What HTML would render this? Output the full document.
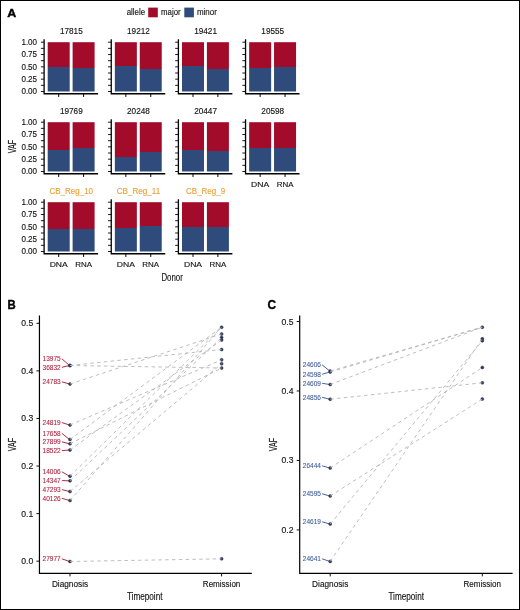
<!DOCTYPE html>
<html><head><meta charset="utf-8"><style>
html,body{margin:0;padding:0;background:#fff;}
svg{display:block;font-family:"Liberation Sans", sans-serif;will-change:transform;}
</style></head><body>
<svg width="520" height="610" viewBox="0 0 520 610">
<rect x="0.5" y="0.5" width="519" height="609" fill="#fff" stroke="#000" stroke-width="1"/>
<text x="7.30" y="16.95" font-size="11.7" text-anchor="start" fill="#000" stroke="#000" stroke-width="0.4" font-weight="bold" textLength="9.00" lengthAdjust="spacingAndGlyphs">A</text>
<text x="7.50" y="309.00" font-size="12.0" text-anchor="start" fill="#000" stroke="#000" stroke-width="0.35" font-weight="bold" textLength="8.20" lengthAdjust="spacingAndGlyphs">B</text>
<text x="267.60" y="309.20" font-size="12.0" text-anchor="start" fill="#000" stroke="#000" stroke-width="0.35" font-weight="bold" textLength="8.60" lengthAdjust="spacingAndGlyphs">C</text>
<text x="126.70" y="14.80" font-size="8.3" text-anchor="start" fill="#161616" stroke="#161616" stroke-width="0.15" textLength="18.40" lengthAdjust="spacingAndGlyphs">allele</text>
<rect x="148.20" y="7.60" width="9.60" height="9.70" fill="#A30B2B"/>
<text x="161.10" y="14.80" font-size="8.3" text-anchor="start" fill="#161616" stroke="#161616" stroke-width="0.15" textLength="19.50" lengthAdjust="spacingAndGlyphs">major</text>
<rect x="184.30" y="7.60" width="9.60" height="9.70" fill="#2E4B7B"/>
<text x="196.90" y="14.80" font-size="8.3" text-anchor="start" fill="#161616" stroke="#161616" stroke-width="0.15" textLength="20.00" lengthAdjust="spacingAndGlyphs">minor</text>
<linearGradient id="g000" x1="0" y1="42.20" x2="0" y2="91.50" gradientUnits="userSpaceOnUse"><stop offset="0.5112" stop-color="#A30B2B"/><stop offset="0.5112" stop-color="#2E4B7B"/></linearGradient>
<rect x="47.70" y="42.20" width="22.00" height="49.30" fill="url(#g000)"/>
<linearGradient id="g001" x1="0" y1="42.20" x2="0" y2="91.50" gradientUnits="userSpaceOnUse"><stop offset="0.5274" stop-color="#A30B2B"/><stop offset="0.5274" stop-color="#2E4B7B"/></linearGradient>
<rect x="72.60" y="42.20" width="22.00" height="49.30" fill="url(#g001)"/>
<path d="M44.10 39.20 V93.75 H98.10" fill="none" stroke="#000" stroke-width="1.3"/>
<line x1="40.90" y1="91.50" x2="44.10" y2="91.50" stroke="#000" stroke-width="0.9"/>
<line x1="40.90" y1="85.34" x2="44.10" y2="85.34" stroke="#000" stroke-width="0.9"/>
<line x1="40.90" y1="79.17" x2="44.10" y2="79.17" stroke="#000" stroke-width="0.9"/>
<line x1="40.90" y1="73.01" x2="44.10" y2="73.01" stroke="#000" stroke-width="0.9"/>
<line x1="40.90" y1="66.85" x2="44.10" y2="66.85" stroke="#000" stroke-width="0.9"/>
<line x1="40.90" y1="60.69" x2="44.10" y2="60.69" stroke="#000" stroke-width="0.9"/>
<line x1="40.90" y1="54.53" x2="44.10" y2="54.53" stroke="#000" stroke-width="0.9"/>
<line x1="40.90" y1="48.36" x2="44.10" y2="48.36" stroke="#000" stroke-width="0.9"/>
<line x1="40.90" y1="42.20" x2="44.10" y2="42.20" stroke="#000" stroke-width="0.9"/>
<line x1="58.70" y1="93.75" x2="58.70" y2="96.95" stroke="#000" stroke-width="1.0"/>
<line x1="83.60" y1="93.75" x2="83.60" y2="96.95" stroke="#000" stroke-width="1.0"/>
<text x="71.30" y="34.20" font-size="8.5" text-anchor="middle" fill="#161616" stroke="#161616" stroke-width="0.15" textLength="22.80" lengthAdjust="spacingAndGlyphs">17815</text>
<text x="37.10" y="94.20" font-size="8.6" text-anchor="end" fill="#161616" stroke="#161616" stroke-width="0.15" textLength="15.70" lengthAdjust="spacingAndGlyphs">0.00</text>
<text x="37.10" y="81.88" font-size="8.6" text-anchor="end" fill="#161616" stroke="#161616" stroke-width="0.15" textLength="15.70" lengthAdjust="spacingAndGlyphs">0.25</text>
<text x="37.10" y="69.55" font-size="8.6" text-anchor="end" fill="#161616" stroke="#161616" stroke-width="0.15" textLength="15.70" lengthAdjust="spacingAndGlyphs">0.50</text>
<text x="37.10" y="57.23" font-size="8.6" text-anchor="end" fill="#161616" stroke="#161616" stroke-width="0.15" textLength="15.70" lengthAdjust="spacingAndGlyphs">0.75</text>
<text x="37.10" y="44.90" font-size="8.6" text-anchor="end" fill="#161616" stroke="#161616" stroke-width="0.15" textLength="15.70" lengthAdjust="spacingAndGlyphs">1.00</text>
<linearGradient id="g010" x1="0" y1="42.20" x2="0" y2="91.50" gradientUnits="userSpaceOnUse"><stop offset="0.4888" stop-color="#A30B2B"/><stop offset="0.4888" stop-color="#2E4B7B"/></linearGradient>
<rect x="114.85" y="42.20" width="22.00" height="49.30" fill="url(#g010)"/>
<linearGradient id="g011" x1="0" y1="42.20" x2="0" y2="91.50" gradientUnits="userSpaceOnUse"><stop offset="0.5456" stop-color="#A30B2B"/><stop offset="0.5456" stop-color="#2E4B7B"/></linearGradient>
<rect x="139.75" y="42.20" width="22.00" height="49.30" fill="url(#g011)"/>
<path d="M111.25 39.20 V93.75 H165.25" fill="none" stroke="#000" stroke-width="1.3"/>
<line x1="108.05" y1="91.50" x2="111.25" y2="91.50" stroke="#000" stroke-width="0.9"/>
<line x1="108.05" y1="85.34" x2="111.25" y2="85.34" stroke="#000" stroke-width="0.9"/>
<line x1="108.05" y1="79.17" x2="111.25" y2="79.17" stroke="#000" stroke-width="0.9"/>
<line x1="108.05" y1="73.01" x2="111.25" y2="73.01" stroke="#000" stroke-width="0.9"/>
<line x1="108.05" y1="66.85" x2="111.25" y2="66.85" stroke="#000" stroke-width="0.9"/>
<line x1="108.05" y1="60.69" x2="111.25" y2="60.69" stroke="#000" stroke-width="0.9"/>
<line x1="108.05" y1="54.53" x2="111.25" y2="54.53" stroke="#000" stroke-width="0.9"/>
<line x1="108.05" y1="48.36" x2="111.25" y2="48.36" stroke="#000" stroke-width="0.9"/>
<line x1="108.05" y1="42.20" x2="111.25" y2="42.20" stroke="#000" stroke-width="0.9"/>
<line x1="125.85" y1="93.75" x2="125.85" y2="96.95" stroke="#000" stroke-width="1.0"/>
<line x1="150.75" y1="93.75" x2="150.75" y2="96.95" stroke="#000" stroke-width="1.0"/>
<text x="138.45" y="34.20" font-size="8.5" text-anchor="middle" fill="#161616" stroke="#161616" stroke-width="0.15" textLength="22.80" lengthAdjust="spacingAndGlyphs">19212</text>
<linearGradient id="g020" x1="0" y1="42.20" x2="0" y2="91.50" gradientUnits="userSpaceOnUse"><stop offset="0.4767" stop-color="#A30B2B"/><stop offset="0.4767" stop-color="#2E4B7B"/></linearGradient>
<rect x="182.00" y="42.20" width="22.00" height="49.30" fill="url(#g020)"/>
<linearGradient id="g021" x1="0" y1="42.20" x2="0" y2="91.50" gradientUnits="userSpaceOnUse"><stop offset="0.5355" stop-color="#A30B2B"/><stop offset="0.5355" stop-color="#2E4B7B"/></linearGradient>
<rect x="206.90" y="42.20" width="22.00" height="49.30" fill="url(#g021)"/>
<path d="M178.40 39.20 V93.75 H232.40" fill="none" stroke="#000" stroke-width="1.3"/>
<line x1="175.20" y1="91.50" x2="178.40" y2="91.50" stroke="#000" stroke-width="0.9"/>
<line x1="175.20" y1="85.34" x2="178.40" y2="85.34" stroke="#000" stroke-width="0.9"/>
<line x1="175.20" y1="79.17" x2="178.40" y2="79.17" stroke="#000" stroke-width="0.9"/>
<line x1="175.20" y1="73.01" x2="178.40" y2="73.01" stroke="#000" stroke-width="0.9"/>
<line x1="175.20" y1="66.85" x2="178.40" y2="66.85" stroke="#000" stroke-width="0.9"/>
<line x1="175.20" y1="60.69" x2="178.40" y2="60.69" stroke="#000" stroke-width="0.9"/>
<line x1="175.20" y1="54.53" x2="178.40" y2="54.53" stroke="#000" stroke-width="0.9"/>
<line x1="175.20" y1="48.36" x2="178.40" y2="48.36" stroke="#000" stroke-width="0.9"/>
<line x1="175.20" y1="42.20" x2="178.40" y2="42.20" stroke="#000" stroke-width="0.9"/>
<line x1="193.00" y1="93.75" x2="193.00" y2="96.95" stroke="#000" stroke-width="1.0"/>
<line x1="217.90" y1="93.75" x2="217.90" y2="96.95" stroke="#000" stroke-width="1.0"/>
<text x="205.60" y="34.20" font-size="8.5" text-anchor="middle" fill="#161616" stroke="#161616" stroke-width="0.15" textLength="22.80" lengthAdjust="spacingAndGlyphs">19421</text>
<linearGradient id="g030" x1="0" y1="42.20" x2="0" y2="91.50" gradientUnits="userSpaceOnUse"><stop offset="0.5193" stop-color="#A30B2B"/><stop offset="0.5193" stop-color="#2E4B7B"/></linearGradient>
<rect x="249.15" y="42.20" width="22.00" height="49.30" fill="url(#g030)"/>
<linearGradient id="g031" x1="0" y1="42.20" x2="0" y2="91.50" gradientUnits="userSpaceOnUse"><stop offset="0.4990" stop-color="#A30B2B"/><stop offset="0.4990" stop-color="#2E4B7B"/></linearGradient>
<rect x="274.05" y="42.20" width="22.00" height="49.30" fill="url(#g031)"/>
<path d="M245.55 39.20 V93.75 H299.55" fill="none" stroke="#000" stroke-width="1.3"/>
<line x1="242.35" y1="91.50" x2="245.55" y2="91.50" stroke="#000" stroke-width="0.9"/>
<line x1="242.35" y1="85.34" x2="245.55" y2="85.34" stroke="#000" stroke-width="0.9"/>
<line x1="242.35" y1="79.17" x2="245.55" y2="79.17" stroke="#000" stroke-width="0.9"/>
<line x1="242.35" y1="73.01" x2="245.55" y2="73.01" stroke="#000" stroke-width="0.9"/>
<line x1="242.35" y1="66.85" x2="245.55" y2="66.85" stroke="#000" stroke-width="0.9"/>
<line x1="242.35" y1="60.69" x2="245.55" y2="60.69" stroke="#000" stroke-width="0.9"/>
<line x1="242.35" y1="54.53" x2="245.55" y2="54.53" stroke="#000" stroke-width="0.9"/>
<line x1="242.35" y1="48.36" x2="245.55" y2="48.36" stroke="#000" stroke-width="0.9"/>
<line x1="242.35" y1="42.20" x2="245.55" y2="42.20" stroke="#000" stroke-width="0.9"/>
<line x1="260.15" y1="93.75" x2="260.15" y2="96.95" stroke="#000" stroke-width="1.0"/>
<line x1="285.05" y1="93.75" x2="285.05" y2="96.95" stroke="#000" stroke-width="1.0"/>
<text x="272.75" y="34.20" font-size="8.5" text-anchor="middle" fill="#161616" stroke="#161616" stroke-width="0.15" textLength="22.80" lengthAdjust="spacingAndGlyphs">19555</text>
<linearGradient id="g100" x1="0" y1="122.20" x2="0" y2="171.50" gradientUnits="userSpaceOnUse"><stop offset="0.5700" stop-color="#A30B2B"/><stop offset="0.5700" stop-color="#2E4B7B"/></linearGradient>
<rect x="47.70" y="122.20" width="22.00" height="49.30" fill="url(#g100)"/>
<linearGradient id="g101" x1="0" y1="122.20" x2="0" y2="171.50" gradientUnits="userSpaceOnUse"><stop offset="0.5233" stop-color="#A30B2B"/><stop offset="0.5233" stop-color="#2E4B7B"/></linearGradient>
<rect x="72.60" y="122.20" width="22.00" height="49.30" fill="url(#g101)"/>
<path d="M44.10 119.20 V173.75 H98.10" fill="none" stroke="#000" stroke-width="1.3"/>
<line x1="40.90" y1="171.50" x2="44.10" y2="171.50" stroke="#000" stroke-width="0.9"/>
<line x1="40.90" y1="165.34" x2="44.10" y2="165.34" stroke="#000" stroke-width="0.9"/>
<line x1="40.90" y1="159.18" x2="44.10" y2="159.18" stroke="#000" stroke-width="0.9"/>
<line x1="40.90" y1="153.01" x2="44.10" y2="153.01" stroke="#000" stroke-width="0.9"/>
<line x1="40.90" y1="146.85" x2="44.10" y2="146.85" stroke="#000" stroke-width="0.9"/>
<line x1="40.90" y1="140.69" x2="44.10" y2="140.69" stroke="#000" stroke-width="0.9"/>
<line x1="40.90" y1="134.53" x2="44.10" y2="134.53" stroke="#000" stroke-width="0.9"/>
<line x1="40.90" y1="128.36" x2="44.10" y2="128.36" stroke="#000" stroke-width="0.9"/>
<line x1="40.90" y1="122.20" x2="44.10" y2="122.20" stroke="#000" stroke-width="0.9"/>
<line x1="58.70" y1="173.75" x2="58.70" y2="176.95" stroke="#000" stroke-width="1.0"/>
<line x1="83.60" y1="173.75" x2="83.60" y2="176.95" stroke="#000" stroke-width="1.0"/>
<text x="71.30" y="114.20" font-size="8.5" text-anchor="middle" fill="#161616" stroke="#161616" stroke-width="0.15" textLength="22.80" lengthAdjust="spacingAndGlyphs">19769</text>
<text x="37.10" y="174.20" font-size="8.6" text-anchor="end" fill="#161616" stroke="#161616" stroke-width="0.15" textLength="15.70" lengthAdjust="spacingAndGlyphs">0.00</text>
<text x="37.10" y="161.88" font-size="8.6" text-anchor="end" fill="#161616" stroke="#161616" stroke-width="0.15" textLength="15.70" lengthAdjust="spacingAndGlyphs">0.25</text>
<text x="37.10" y="149.55" font-size="8.6" text-anchor="end" fill="#161616" stroke="#161616" stroke-width="0.15" textLength="15.70" lengthAdjust="spacingAndGlyphs">0.50</text>
<text x="37.10" y="137.22" font-size="8.6" text-anchor="end" fill="#161616" stroke="#161616" stroke-width="0.15" textLength="15.70" lengthAdjust="spacingAndGlyphs">0.75</text>
<text x="37.10" y="124.90" font-size="8.6" text-anchor="end" fill="#161616" stroke="#161616" stroke-width="0.15" textLength="15.70" lengthAdjust="spacingAndGlyphs">1.00</text>
<linearGradient id="g110" x1="0" y1="122.20" x2="0" y2="171.50" gradientUnits="userSpaceOnUse"><stop offset="0.6978" stop-color="#A30B2B"/><stop offset="0.6978" stop-color="#2E4B7B"/></linearGradient>
<rect x="114.85" y="122.20" width="22.00" height="49.30" fill="url(#g110)"/>
<linearGradient id="g111" x1="0" y1="122.20" x2="0" y2="171.50" gradientUnits="userSpaceOnUse"><stop offset="0.5984" stop-color="#A30B2B"/><stop offset="0.5984" stop-color="#2E4B7B"/></linearGradient>
<rect x="139.75" y="122.20" width="22.00" height="49.30" fill="url(#g111)"/>
<path d="M111.25 119.20 V173.75 H165.25" fill="none" stroke="#000" stroke-width="1.3"/>
<line x1="108.05" y1="171.50" x2="111.25" y2="171.50" stroke="#000" stroke-width="0.9"/>
<line x1="108.05" y1="165.34" x2="111.25" y2="165.34" stroke="#000" stroke-width="0.9"/>
<line x1="108.05" y1="159.18" x2="111.25" y2="159.18" stroke="#000" stroke-width="0.9"/>
<line x1="108.05" y1="153.01" x2="111.25" y2="153.01" stroke="#000" stroke-width="0.9"/>
<line x1="108.05" y1="146.85" x2="111.25" y2="146.85" stroke="#000" stroke-width="0.9"/>
<line x1="108.05" y1="140.69" x2="111.25" y2="140.69" stroke="#000" stroke-width="0.9"/>
<line x1="108.05" y1="134.53" x2="111.25" y2="134.53" stroke="#000" stroke-width="0.9"/>
<line x1="108.05" y1="128.36" x2="111.25" y2="128.36" stroke="#000" stroke-width="0.9"/>
<line x1="108.05" y1="122.20" x2="111.25" y2="122.20" stroke="#000" stroke-width="0.9"/>
<line x1="125.85" y1="173.75" x2="125.85" y2="176.95" stroke="#000" stroke-width="1.0"/>
<line x1="150.75" y1="173.75" x2="150.75" y2="176.95" stroke="#000" stroke-width="1.0"/>
<text x="138.45" y="114.20" font-size="8.5" text-anchor="middle" fill="#161616" stroke="#161616" stroke-width="0.15" textLength="22.80" lengthAdjust="spacingAndGlyphs">20248</text>
<linearGradient id="g120" x1="0" y1="122.20" x2="0" y2="171.50" gradientUnits="userSpaceOnUse"><stop offset="0.5538" stop-color="#A30B2B"/><stop offset="0.5538" stop-color="#2E4B7B"/></linearGradient>
<rect x="182.00" y="122.20" width="22.00" height="49.30" fill="url(#g120)"/>
<linearGradient id="g121" x1="0" y1="122.20" x2="0" y2="171.50" gradientUnits="userSpaceOnUse"><stop offset="0.5822" stop-color="#A30B2B"/><stop offset="0.5822" stop-color="#2E4B7B"/></linearGradient>
<rect x="206.90" y="122.20" width="22.00" height="49.30" fill="url(#g121)"/>
<path d="M178.40 119.20 V173.75 H232.40" fill="none" stroke="#000" stroke-width="1.3"/>
<line x1="175.20" y1="171.50" x2="178.40" y2="171.50" stroke="#000" stroke-width="0.9"/>
<line x1="175.20" y1="165.34" x2="178.40" y2="165.34" stroke="#000" stroke-width="0.9"/>
<line x1="175.20" y1="159.18" x2="178.40" y2="159.18" stroke="#000" stroke-width="0.9"/>
<line x1="175.20" y1="153.01" x2="178.40" y2="153.01" stroke="#000" stroke-width="0.9"/>
<line x1="175.20" y1="146.85" x2="178.40" y2="146.85" stroke="#000" stroke-width="0.9"/>
<line x1="175.20" y1="140.69" x2="178.40" y2="140.69" stroke="#000" stroke-width="0.9"/>
<line x1="175.20" y1="134.53" x2="178.40" y2="134.53" stroke="#000" stroke-width="0.9"/>
<line x1="175.20" y1="128.36" x2="178.40" y2="128.36" stroke="#000" stroke-width="0.9"/>
<line x1="175.20" y1="122.20" x2="178.40" y2="122.20" stroke="#000" stroke-width="0.9"/>
<line x1="193.00" y1="173.75" x2="193.00" y2="176.95" stroke="#000" stroke-width="1.0"/>
<line x1="217.90" y1="173.75" x2="217.90" y2="176.95" stroke="#000" stroke-width="1.0"/>
<text x="205.60" y="114.20" font-size="8.5" text-anchor="middle" fill="#161616" stroke="#161616" stroke-width="0.15" textLength="22.80" lengthAdjust="spacingAndGlyphs">20447</text>
<linearGradient id="g130" x1="0" y1="122.20" x2="0" y2="171.50" gradientUnits="userSpaceOnUse"><stop offset="0.5193" stop-color="#A30B2B"/><stop offset="0.5193" stop-color="#2E4B7B"/></linearGradient>
<rect x="249.15" y="122.20" width="22.00" height="49.30" fill="url(#g130)"/>
<linearGradient id="g131" x1="0" y1="122.20" x2="0" y2="171.50" gradientUnits="userSpaceOnUse"><stop offset="0.5233" stop-color="#A30B2B"/><stop offset="0.5233" stop-color="#2E4B7B"/></linearGradient>
<rect x="274.05" y="122.20" width="22.00" height="49.30" fill="url(#g131)"/>
<path d="M245.55 119.20 V173.75 H299.55" fill="none" stroke="#000" stroke-width="1.3"/>
<line x1="242.35" y1="171.50" x2="245.55" y2="171.50" stroke="#000" stroke-width="0.9"/>
<line x1="242.35" y1="165.34" x2="245.55" y2="165.34" stroke="#000" stroke-width="0.9"/>
<line x1="242.35" y1="159.18" x2="245.55" y2="159.18" stroke="#000" stroke-width="0.9"/>
<line x1="242.35" y1="153.01" x2="245.55" y2="153.01" stroke="#000" stroke-width="0.9"/>
<line x1="242.35" y1="146.85" x2="245.55" y2="146.85" stroke="#000" stroke-width="0.9"/>
<line x1="242.35" y1="140.69" x2="245.55" y2="140.69" stroke="#000" stroke-width="0.9"/>
<line x1="242.35" y1="134.53" x2="245.55" y2="134.53" stroke="#000" stroke-width="0.9"/>
<line x1="242.35" y1="128.36" x2="245.55" y2="128.36" stroke="#000" stroke-width="0.9"/>
<line x1="242.35" y1="122.20" x2="245.55" y2="122.20" stroke="#000" stroke-width="0.9"/>
<line x1="260.15" y1="173.75" x2="260.15" y2="176.95" stroke="#000" stroke-width="1.0"/>
<line x1="285.05" y1="173.75" x2="285.05" y2="176.95" stroke="#000" stroke-width="1.0"/>
<text x="272.75" y="114.20" font-size="8.5" text-anchor="middle" fill="#161616" stroke="#161616" stroke-width="0.15" textLength="22.80" lengthAdjust="spacingAndGlyphs">20598</text>
<text x="260.15" y="186.75" font-size="8.1" text-anchor="middle" fill="#161616" stroke="#161616" stroke-width="0.15" textLength="18.10" lengthAdjust="spacingAndGlyphs">DNA</text>
<text x="285.05" y="186.75" font-size="8.1" text-anchor="middle" fill="#161616" stroke="#161616" stroke-width="0.15" textLength="16.80" lengthAdjust="spacingAndGlyphs">RNA</text>
<linearGradient id="g200" x1="0" y1="202.20" x2="0" y2="251.50" gradientUnits="userSpaceOnUse"><stop offset="0.5355" stop-color="#A30B2B"/><stop offset="0.5355" stop-color="#2E4B7B"/></linearGradient>
<rect x="47.70" y="202.20" width="22.00" height="49.30" fill="url(#g200)"/>
<linearGradient id="g201" x1="0" y1="202.20" x2="0" y2="251.50" gradientUnits="userSpaceOnUse"><stop offset="0.5416" stop-color="#A30B2B"/><stop offset="0.5416" stop-color="#2E4B7B"/></linearGradient>
<rect x="72.60" y="202.20" width="22.00" height="49.30" fill="url(#g201)"/>
<path d="M44.10 199.20 V253.75 H98.10" fill="none" stroke="#000" stroke-width="1.3"/>
<line x1="40.90" y1="251.50" x2="44.10" y2="251.50" stroke="#000" stroke-width="0.9"/>
<line x1="40.90" y1="245.34" x2="44.10" y2="245.34" stroke="#000" stroke-width="0.9"/>
<line x1="40.90" y1="239.18" x2="44.10" y2="239.18" stroke="#000" stroke-width="0.9"/>
<line x1="40.90" y1="233.01" x2="44.10" y2="233.01" stroke="#000" stroke-width="0.9"/>
<line x1="40.90" y1="226.85" x2="44.10" y2="226.85" stroke="#000" stroke-width="0.9"/>
<line x1="40.90" y1="220.69" x2="44.10" y2="220.69" stroke="#000" stroke-width="0.9"/>
<line x1="40.90" y1="214.52" x2="44.10" y2="214.52" stroke="#000" stroke-width="0.9"/>
<line x1="40.90" y1="208.36" x2="44.10" y2="208.36" stroke="#000" stroke-width="0.9"/>
<line x1="40.90" y1="202.20" x2="44.10" y2="202.20" stroke="#000" stroke-width="0.9"/>
<line x1="58.70" y1="253.75" x2="58.70" y2="256.95" stroke="#000" stroke-width="1.0"/>
<line x1="83.60" y1="253.75" x2="83.60" y2="256.95" stroke="#000" stroke-width="1.0"/>
<text x="71.30" y="194.20" font-size="9.0" text-anchor="middle" fill="#E8A33C" stroke="#E8A33C" stroke-width="0.15" textLength="43.50" lengthAdjust="spacingAndGlyphs">CB_Reg_10</text>
<text x="37.10" y="254.20" font-size="8.6" text-anchor="end" fill="#161616" stroke="#161616" stroke-width="0.15" textLength="15.70" lengthAdjust="spacingAndGlyphs">0.00</text>
<text x="37.10" y="241.88" font-size="8.6" text-anchor="end" fill="#161616" stroke="#161616" stroke-width="0.15" textLength="15.70" lengthAdjust="spacingAndGlyphs">0.25</text>
<text x="37.10" y="229.55" font-size="8.6" text-anchor="end" fill="#161616" stroke="#161616" stroke-width="0.15" textLength="15.70" lengthAdjust="spacingAndGlyphs">0.50</text>
<text x="37.10" y="217.22" font-size="8.6" text-anchor="end" fill="#161616" stroke="#161616" stroke-width="0.15" textLength="15.70" lengthAdjust="spacingAndGlyphs">0.75</text>
<text x="37.10" y="204.90" font-size="8.6" text-anchor="end" fill="#161616" stroke="#161616" stroke-width="0.15" textLength="15.70" lengthAdjust="spacingAndGlyphs">1.00</text>
<text x="58.70" y="266.75" font-size="8.1" text-anchor="middle" fill="#161616" stroke="#161616" stroke-width="0.15" textLength="18.10" lengthAdjust="spacingAndGlyphs">DNA</text>
<text x="83.60" y="266.75" font-size="8.1" text-anchor="middle" fill="#161616" stroke="#161616" stroke-width="0.15" textLength="16.80" lengthAdjust="spacingAndGlyphs">RNA</text>
<linearGradient id="g210" x1="0" y1="202.20" x2="0" y2="251.50" gradientUnits="userSpaceOnUse"><stop offset="0.5274" stop-color="#A30B2B"/><stop offset="0.5274" stop-color="#2E4B7B"/></linearGradient>
<rect x="114.85" y="202.20" width="22.00" height="49.30" fill="url(#g210)"/>
<linearGradient id="g211" x1="0" y1="202.20" x2="0" y2="251.50" gradientUnits="userSpaceOnUse"><stop offset="0.4888" stop-color="#A30B2B"/><stop offset="0.4888" stop-color="#2E4B7B"/></linearGradient>
<rect x="139.75" y="202.20" width="22.00" height="49.30" fill="url(#g211)"/>
<path d="M111.25 199.20 V253.75 H165.25" fill="none" stroke="#000" stroke-width="1.3"/>
<line x1="108.05" y1="251.50" x2="111.25" y2="251.50" stroke="#000" stroke-width="0.9"/>
<line x1="108.05" y1="245.34" x2="111.25" y2="245.34" stroke="#000" stroke-width="0.9"/>
<line x1="108.05" y1="239.18" x2="111.25" y2="239.18" stroke="#000" stroke-width="0.9"/>
<line x1="108.05" y1="233.01" x2="111.25" y2="233.01" stroke="#000" stroke-width="0.9"/>
<line x1="108.05" y1="226.85" x2="111.25" y2="226.85" stroke="#000" stroke-width="0.9"/>
<line x1="108.05" y1="220.69" x2="111.25" y2="220.69" stroke="#000" stroke-width="0.9"/>
<line x1="108.05" y1="214.52" x2="111.25" y2="214.52" stroke="#000" stroke-width="0.9"/>
<line x1="108.05" y1="208.36" x2="111.25" y2="208.36" stroke="#000" stroke-width="0.9"/>
<line x1="108.05" y1="202.20" x2="111.25" y2="202.20" stroke="#000" stroke-width="0.9"/>
<line x1="125.85" y1="253.75" x2="125.85" y2="256.95" stroke="#000" stroke-width="1.0"/>
<line x1="150.75" y1="253.75" x2="150.75" y2="256.95" stroke="#000" stroke-width="1.0"/>
<text x="138.45" y="194.20" font-size="9.0" text-anchor="middle" fill="#E8A33C" stroke="#E8A33C" stroke-width="0.15" textLength="43.50" lengthAdjust="spacingAndGlyphs">CB_Reg_11</text>
<text x="125.85" y="266.75" font-size="8.1" text-anchor="middle" fill="#161616" stroke="#161616" stroke-width="0.15" textLength="18.10" lengthAdjust="spacingAndGlyphs">DNA</text>
<text x="150.75" y="266.75" font-size="8.1" text-anchor="middle" fill="#161616" stroke="#161616" stroke-width="0.15" textLength="16.80" lengthAdjust="spacingAndGlyphs">RNA</text>
<linearGradient id="g220" x1="0" y1="202.20" x2="0" y2="251.50" gradientUnits="userSpaceOnUse"><stop offset="0.5051" stop-color="#A30B2B"/><stop offset="0.5051" stop-color="#2E4B7B"/></linearGradient>
<rect x="182.00" y="202.20" width="22.00" height="49.30" fill="url(#g220)"/>
<linearGradient id="g221" x1="0" y1="202.20" x2="0" y2="251.50" gradientUnits="userSpaceOnUse"><stop offset="0.4990" stop-color="#A30B2B"/><stop offset="0.4990" stop-color="#2E4B7B"/></linearGradient>
<rect x="206.90" y="202.20" width="22.00" height="49.30" fill="url(#g221)"/>
<path d="M178.40 199.20 V253.75 H232.40" fill="none" stroke="#000" stroke-width="1.3"/>
<line x1="175.20" y1="251.50" x2="178.40" y2="251.50" stroke="#000" stroke-width="0.9"/>
<line x1="175.20" y1="245.34" x2="178.40" y2="245.34" stroke="#000" stroke-width="0.9"/>
<line x1="175.20" y1="239.18" x2="178.40" y2="239.18" stroke="#000" stroke-width="0.9"/>
<line x1="175.20" y1="233.01" x2="178.40" y2="233.01" stroke="#000" stroke-width="0.9"/>
<line x1="175.20" y1="226.85" x2="178.40" y2="226.85" stroke="#000" stroke-width="0.9"/>
<line x1="175.20" y1="220.69" x2="178.40" y2="220.69" stroke="#000" stroke-width="0.9"/>
<line x1="175.20" y1="214.52" x2="178.40" y2="214.52" stroke="#000" stroke-width="0.9"/>
<line x1="175.20" y1="208.36" x2="178.40" y2="208.36" stroke="#000" stroke-width="0.9"/>
<line x1="175.20" y1="202.20" x2="178.40" y2="202.20" stroke="#000" stroke-width="0.9"/>
<line x1="193.00" y1="253.75" x2="193.00" y2="256.95" stroke="#000" stroke-width="1.0"/>
<line x1="217.90" y1="253.75" x2="217.90" y2="256.95" stroke="#000" stroke-width="1.0"/>
<text x="205.60" y="194.20" font-size="9.0" text-anchor="middle" fill="#E8A33C" stroke="#E8A33C" stroke-width="0.15" textLength="39.00" lengthAdjust="spacingAndGlyphs">CB_Reg_9</text>
<text x="193.00" y="266.75" font-size="8.1" text-anchor="middle" fill="#161616" stroke="#161616" stroke-width="0.15" textLength="18.10" lengthAdjust="spacingAndGlyphs">DNA</text>
<text x="217.90" y="266.75" font-size="8.1" text-anchor="middle" fill="#161616" stroke="#161616" stroke-width="0.15" textLength="16.80" lengthAdjust="spacingAndGlyphs">RNA</text>
<text x="0" y="0" font-size="10" text-anchor="middle" fill="#161616" stroke="#161616" stroke-width="0.2" textLength="13.5" lengthAdjust="spacingAndGlyphs" transform="translate(16.0 146.6) rotate(-90)">VAF</text>
<text x="172.10" y="280.80" font-size="10" text-anchor="middle" fill="#161616" stroke="#161616" stroke-width="0.15" textLength="21.40" lengthAdjust="spacingAndGlyphs">Donor</text>
<path d="M39.45 315.6 V573.4 H251.80" fill="none" stroke="#000" stroke-width="1.2"/>
<line x1="36.45" y1="561.20" x2="39.45" y2="561.20" stroke="#111" stroke-width="1"/>
<text x="33.25" y="564.20" font-size="8.8" text-anchor="end" fill="#161616" stroke="#161616" stroke-width="0.15" textLength="12.00" lengthAdjust="spacingAndGlyphs">0.0</text>
<line x1="36.45" y1="513.62" x2="39.45" y2="513.62" stroke="#111" stroke-width="1"/>
<text x="33.25" y="516.62" font-size="8.8" text-anchor="end" fill="#161616" stroke="#161616" stroke-width="0.15" textLength="12.00" lengthAdjust="spacingAndGlyphs">0.1</text>
<line x1="36.45" y1="466.04" x2="39.45" y2="466.04" stroke="#111" stroke-width="1"/>
<text x="33.25" y="469.04" font-size="8.8" text-anchor="end" fill="#161616" stroke="#161616" stroke-width="0.15" textLength="12.00" lengthAdjust="spacingAndGlyphs">0.2</text>
<line x1="36.45" y1="418.46" x2="39.45" y2="418.46" stroke="#111" stroke-width="1"/>
<text x="33.25" y="421.46" font-size="8.8" text-anchor="end" fill="#161616" stroke="#161616" stroke-width="0.15" textLength="12.00" lengthAdjust="spacingAndGlyphs">0.3</text>
<line x1="36.45" y1="370.88" x2="39.45" y2="370.88" stroke="#111" stroke-width="1"/>
<text x="33.25" y="373.88" font-size="8.8" text-anchor="end" fill="#161616" stroke="#161616" stroke-width="0.15" textLength="12.00" lengthAdjust="spacingAndGlyphs">0.4</text>
<line x1="36.45" y1="323.30" x2="39.45" y2="323.30" stroke="#111" stroke-width="1"/>
<text x="33.25" y="326.30" font-size="8.8" text-anchor="end" fill="#161616" stroke="#161616" stroke-width="0.15" textLength="12.00" lengthAdjust="spacingAndGlyphs">0.5</text>
<line x1="70.00" y1="573.40" x2="70.00" y2="576.40" stroke="#111" stroke-width="1"/>
<line x1="221.60" y1="573.40" x2="221.60" y2="576.40" stroke="#111" stroke-width="1"/>
<text x="70.00" y="587.00" font-size="8.8" text-anchor="middle" fill="#161616" stroke="#161616" stroke-width="0.15" textLength="36.20" lengthAdjust="spacingAndGlyphs">Diagnosis</text>
<text x="221.60" y="587.00" font-size="8.8" text-anchor="middle" fill="#161616" stroke="#161616" stroke-width="0.15" textLength="37.50" lengthAdjust="spacingAndGlyphs">Remission</text>
<text x="144.70" y="600.00" font-size="10.0" text-anchor="middle" fill="#161616" stroke="#161616" stroke-width="0.15" textLength="35.60" lengthAdjust="spacingAndGlyphs">Timepoint</text>
<text x="60.75" y="361.00" font-size="7.2" text-anchor="end" fill="#B0203F" stroke="#B0203F" stroke-width="0.08" textLength="18.20" lengthAdjust="spacingAndGlyphs">13975</text>
<line x1="61.85" y1="358.80" x2="69.50" y2="365.50" stroke="#B0203F" stroke-width="0.95"/>
<text x="60.75" y="369.50" font-size="7.2" text-anchor="end" fill="#B0203F" stroke="#B0203F" stroke-width="0.08" textLength="18.20" lengthAdjust="spacingAndGlyphs">36832</text>
<line x1="61.85" y1="367.30" x2="69.50" y2="365.50" stroke="#B0203F" stroke-width="0.95"/>
<text x="60.75" y="384.00" font-size="7.2" text-anchor="end" fill="#B0203F" stroke="#B0203F" stroke-width="0.08" textLength="18.20" lengthAdjust="spacingAndGlyphs">24783</text>
<line x1="61.85" y1="381.80" x2="69.50" y2="384.00" stroke="#B0203F" stroke-width="0.95"/>
<text x="60.75" y="424.80" font-size="7.2" text-anchor="end" fill="#B0203F" stroke="#B0203F" stroke-width="0.08" textLength="18.20" lengthAdjust="spacingAndGlyphs">24819</text>
<line x1="61.85" y1="422.60" x2="69.50" y2="425.00" stroke="#B0203F" stroke-width="0.95"/>
<text x="60.75" y="435.50" font-size="7.2" text-anchor="end" fill="#B0203F" stroke="#B0203F" stroke-width="0.08" textLength="18.20" lengthAdjust="spacingAndGlyphs">17658</text>
<line x1="61.85" y1="433.30" x2="69.50" y2="439.50" stroke="#B0203F" stroke-width="0.95"/>
<text x="60.75" y="444.00" font-size="7.2" text-anchor="end" fill="#B0203F" stroke="#B0203F" stroke-width="0.08" textLength="18.20" lengthAdjust="spacingAndGlyphs">27899</text>
<line x1="61.85" y1="441.80" x2="69.50" y2="443.80" stroke="#B0203F" stroke-width="0.95"/>
<text x="60.75" y="452.80" font-size="7.2" text-anchor="end" fill="#B0203F" stroke="#B0203F" stroke-width="0.08" textLength="18.20" lengthAdjust="spacingAndGlyphs">18522</text>
<line x1="61.85" y1="450.60" x2="69.50" y2="450.00" stroke="#B0203F" stroke-width="0.95"/>
<text x="60.75" y="474.00" font-size="7.2" text-anchor="end" fill="#B0203F" stroke="#B0203F" stroke-width="0.08" textLength="18.20" lengthAdjust="spacingAndGlyphs">14006</text>
<line x1="61.85" y1="471.80" x2="69.50" y2="476.20" stroke="#B0203F" stroke-width="0.95"/>
<text x="60.75" y="482.80" font-size="7.2" text-anchor="end" fill="#B0203F" stroke="#B0203F" stroke-width="0.08" textLength="18.20" lengthAdjust="spacingAndGlyphs">14347</text>
<line x1="61.85" y1="480.60" x2="69.50" y2="480.80" stroke="#B0203F" stroke-width="0.95"/>
<text x="60.75" y="491.80" font-size="7.2" text-anchor="end" fill="#B0203F" stroke="#B0203F" stroke-width="0.08" textLength="18.20" lengthAdjust="spacingAndGlyphs">47293</text>
<line x1="61.85" y1="489.60" x2="69.50" y2="491.50" stroke="#B0203F" stroke-width="0.95"/>
<text x="60.75" y="500.50" font-size="7.2" text-anchor="end" fill="#B0203F" stroke="#B0203F" stroke-width="0.08" textLength="18.20" lengthAdjust="spacingAndGlyphs">40126</text>
<line x1="61.85" y1="498.30" x2="69.50" y2="500.50" stroke="#B0203F" stroke-width="0.95"/>
<text x="60.75" y="561.00" font-size="7.2" text-anchor="end" fill="#B0203F" stroke="#B0203F" stroke-width="0.08" textLength="18.20" lengthAdjust="spacingAndGlyphs">27977</text>
<line x1="61.85" y1="558.80" x2="69.50" y2="561.50" stroke="#B0203F" stroke-width="0.95"/>
<circle cx="70.00" cy="365.50" r="1.5" fill="#2C3653" stroke="#2C3653" stroke-width="0.5"/>
<circle cx="70.00" cy="365.50" r="1.5" fill="#2C3653" stroke="#2C3653" stroke-width="0.5"/>
<circle cx="70.00" cy="384.00" r="1.5" fill="#2C3653" stroke="#2C3653" stroke-width="0.5"/>
<circle cx="70.00" cy="425.00" r="1.5" fill="#2C3653" stroke="#2C3653" stroke-width="0.5"/>
<circle cx="70.00" cy="439.50" r="1.5" fill="#2C3653" stroke="#2C3653" stroke-width="0.5"/>
<circle cx="70.00" cy="443.80" r="1.5" fill="#2C3653" stroke="#2C3653" stroke-width="0.5"/>
<circle cx="70.00" cy="450.00" r="1.5" fill="#2C3653" stroke="#2C3653" stroke-width="0.5"/>
<circle cx="70.00" cy="476.20" r="1.5" fill="#2C3653" stroke="#2C3653" stroke-width="0.5"/>
<circle cx="70.00" cy="480.80" r="1.5" fill="#2C3653" stroke="#2C3653" stroke-width="0.5"/>
<circle cx="70.00" cy="491.50" r="1.5" fill="#2C3653" stroke="#2C3653" stroke-width="0.5"/>
<circle cx="70.00" cy="500.50" r="1.5" fill="#2C3653" stroke="#2C3653" stroke-width="0.5"/>
<circle cx="70.00" cy="561.50" r="1.5" fill="#2C3653" stroke="#2C3653" stroke-width="0.5"/>
<circle cx="221.60" cy="327.20" r="1.5" fill="#2C3653" stroke="#2C3653" stroke-width="0.5"/>
<circle cx="221.60" cy="334.00" r="1.5" fill="#2C3653" stroke="#2C3653" stroke-width="0.5"/>
<circle cx="221.60" cy="337.50" r="1.5" fill="#2C3653" stroke="#2C3653" stroke-width="0.5"/>
<circle cx="221.60" cy="340.00" r="1.5" fill="#2C3653" stroke="#2C3653" stroke-width="0.5"/>
<circle cx="221.60" cy="349.50" r="1.5" fill="#2C3653" stroke="#2C3653" stroke-width="0.5"/>
<circle cx="221.60" cy="359.80" r="1.5" fill="#2C3653" stroke="#2C3653" stroke-width="0.5"/>
<circle cx="221.60" cy="363.80" r="1.5" fill="#2C3653" stroke="#2C3653" stroke-width="0.5"/>
<circle cx="221.60" cy="368.00" r="1.5" fill="#2C3653" stroke="#2C3653" stroke-width="0.5"/>
<circle cx="221.60" cy="558.80" r="1.5" fill="#2C3653" stroke="#2C3653" stroke-width="0.5"/>
<line x1="70.00" y1="365.50" x2="221.60" y2="349.50" stroke="#B2B2B2" stroke-width="0.85" stroke-dasharray="3.5 3.3"/>
<line x1="70.00" y1="365.50" x2="221.60" y2="368.00" stroke="#B2B2B2" stroke-width="0.85" stroke-dasharray="3.5 3.3"/>
<line x1="70.00" y1="384.00" x2="221.60" y2="334.00" stroke="#B2B2B2" stroke-width="0.85" stroke-dasharray="3.5 3.3"/>
<line x1="70.00" y1="425.00" x2="221.60" y2="359.80" stroke="#B2B2B2" stroke-width="0.85" stroke-dasharray="3.5 3.3"/>
<line x1="70.00" y1="439.50" x2="221.60" y2="327.20" stroke="#B2B2B2" stroke-width="0.85" stroke-dasharray="3.5 3.3"/>
<line x1="70.00" y1="443.80" x2="221.60" y2="368.00" stroke="#B2B2B2" stroke-width="0.85" stroke-dasharray="3.5 3.3"/>
<line x1="70.00" y1="450.00" x2="221.60" y2="340.00" stroke="#B2B2B2" stroke-width="0.85" stroke-dasharray="3.5 3.3"/>
<line x1="70.00" y1="476.20" x2="221.60" y2="327.20" stroke="#B2B2B2" stroke-width="0.85" stroke-dasharray="3.5 3.3"/>
<line x1="70.00" y1="480.80" x2="221.60" y2="337.50" stroke="#B2B2B2" stroke-width="0.85" stroke-dasharray="3.5 3.3"/>
<line x1="70.00" y1="491.50" x2="221.60" y2="363.80" stroke="#B2B2B2" stroke-width="0.85" stroke-dasharray="3.5 3.3"/>
<line x1="70.00" y1="500.50" x2="221.60" y2="327.20" stroke="#B2B2B2" stroke-width="0.85" stroke-dasharray="3.5 3.3"/>
<line x1="70.00" y1="561.50" x2="221.60" y2="558.80" stroke="#B2B2B2" stroke-width="0.85" stroke-dasharray="3.5 3.3"/>
<path d="M299.70 315.6 V573.4 H512.60" fill="none" stroke="#000" stroke-width="1.2"/>
<line x1="296.70" y1="529.91" x2="299.70" y2="529.91" stroke="#111" stroke-width="1"/>
<text x="293.50" y="532.91" font-size="8.8" text-anchor="end" fill="#161616" stroke="#161616" stroke-width="0.15" textLength="12.00" lengthAdjust="spacingAndGlyphs">0.2</text>
<line x1="296.70" y1="460.44" x2="299.70" y2="460.44" stroke="#111" stroke-width="1"/>
<text x="293.50" y="463.44" font-size="8.8" text-anchor="end" fill="#161616" stroke="#161616" stroke-width="0.15" textLength="12.00" lengthAdjust="spacingAndGlyphs">0.3</text>
<line x1="296.70" y1="390.97" x2="299.70" y2="390.97" stroke="#111" stroke-width="1"/>
<text x="293.50" y="393.97" font-size="8.8" text-anchor="end" fill="#161616" stroke="#161616" stroke-width="0.15" textLength="12.00" lengthAdjust="spacingAndGlyphs">0.4</text>
<line x1="296.70" y1="321.50" x2="299.70" y2="321.50" stroke="#111" stroke-width="1"/>
<text x="293.50" y="324.50" font-size="8.8" text-anchor="end" fill="#161616" stroke="#161616" stroke-width="0.15" textLength="12.00" lengthAdjust="spacingAndGlyphs">0.5</text>
<line x1="330.20" y1="573.40" x2="330.20" y2="576.40" stroke="#111" stroke-width="1"/>
<line x1="482.30" y1="573.40" x2="482.30" y2="576.40" stroke="#111" stroke-width="1"/>
<text x="330.20" y="587.00" font-size="8.8" text-anchor="middle" fill="#161616" stroke="#161616" stroke-width="0.15" textLength="36.20" lengthAdjust="spacingAndGlyphs">Diagnosis</text>
<text x="482.30" y="587.00" font-size="8.8" text-anchor="middle" fill="#161616" stroke="#161616" stroke-width="0.15" textLength="37.50" lengthAdjust="spacingAndGlyphs">Remission</text>
<text x="406.20" y="600.00" font-size="10.0" text-anchor="middle" fill="#161616" stroke="#161616" stroke-width="0.15" textLength="35.60" lengthAdjust="spacingAndGlyphs">Timepoint</text>
<text x="321.00" y="367.00" font-size="7.2" text-anchor="end" fill="#3E5C98" stroke="#3E5C98" stroke-width="0.08" textLength="18.20" lengthAdjust="spacingAndGlyphs">24606</text>
<line x1="322.10" y1="364.80" x2="329.70" y2="371.00" stroke="#3E5C98" stroke-width="0.95"/>
<text x="321.00" y="376.50" font-size="7.2" text-anchor="end" fill="#3E5C98" stroke="#3E5C98" stroke-width="0.08" textLength="18.20" lengthAdjust="spacingAndGlyphs">24598</text>
<line x1="322.10" y1="374.30" x2="329.70" y2="372.00" stroke="#3E5C98" stroke-width="0.95"/>
<text x="321.00" y="385.50" font-size="7.2" text-anchor="end" fill="#3E5C98" stroke="#3E5C98" stroke-width="0.08" textLength="18.20" lengthAdjust="spacingAndGlyphs">24609</text>
<line x1="322.10" y1="383.30" x2="329.70" y2="384.50" stroke="#3E5C98" stroke-width="0.95"/>
<text x="321.00" y="399.50" font-size="7.2" text-anchor="end" fill="#3E5C98" stroke="#3E5C98" stroke-width="0.08" textLength="18.20" lengthAdjust="spacingAndGlyphs">24856</text>
<line x1="322.10" y1="397.30" x2="329.70" y2="399.20" stroke="#3E5C98" stroke-width="0.95"/>
<text x="321.00" y="468.00" font-size="7.2" text-anchor="end" fill="#3E5C98" stroke="#3E5C98" stroke-width="0.08" textLength="18.20" lengthAdjust="spacingAndGlyphs">26444</text>
<line x1="322.10" y1="465.80" x2="329.70" y2="468.00" stroke="#3E5C98" stroke-width="0.95"/>
<text x="321.00" y="496.00" font-size="7.2" text-anchor="end" fill="#3E5C98" stroke="#3E5C98" stroke-width="0.08" textLength="18.20" lengthAdjust="spacingAndGlyphs">24595</text>
<line x1="322.10" y1="493.80" x2="329.70" y2="496.00" stroke="#3E5C98" stroke-width="0.95"/>
<text x="321.00" y="524.00" font-size="7.2" text-anchor="end" fill="#3E5C98" stroke="#3E5C98" stroke-width="0.08" textLength="18.20" lengthAdjust="spacingAndGlyphs">24619</text>
<line x1="322.10" y1="521.80" x2="329.70" y2="524.00" stroke="#3E5C98" stroke-width="0.95"/>
<text x="321.00" y="561.00" font-size="7.2" text-anchor="end" fill="#3E5C98" stroke="#3E5C98" stroke-width="0.08" textLength="18.20" lengthAdjust="spacingAndGlyphs">24641</text>
<line x1="322.10" y1="558.80" x2="329.70" y2="561.40" stroke="#3E5C98" stroke-width="0.95"/>
<circle cx="330.20" cy="371.00" r="1.5" fill="#2C3653" stroke="#2C3653" stroke-width="0.5"/>
<circle cx="330.20" cy="372.00" r="1.5" fill="#2C3653" stroke="#2C3653" stroke-width="0.5"/>
<circle cx="330.20" cy="384.50" r="1.5" fill="#2C3653" stroke="#2C3653" stroke-width="0.5"/>
<circle cx="330.20" cy="399.20" r="1.5" fill="#2C3653" stroke="#2C3653" stroke-width="0.5"/>
<circle cx="330.20" cy="468.00" r="1.5" fill="#2C3653" stroke="#2C3653" stroke-width="0.5"/>
<circle cx="330.20" cy="496.00" r="1.5" fill="#2C3653" stroke="#2C3653" stroke-width="0.5"/>
<circle cx="330.20" cy="524.00" r="1.5" fill="#2C3653" stroke="#2C3653" stroke-width="0.5"/>
<circle cx="330.20" cy="561.40" r="1.5" fill="#2C3653" stroke="#2C3653" stroke-width="0.5"/>
<circle cx="482.30" cy="327.20" r="1.5" fill="#2C3653" stroke="#2C3653" stroke-width="0.5"/>
<circle cx="482.30" cy="338.80" r="1.5" fill="#2C3653" stroke="#2C3653" stroke-width="0.5"/>
<circle cx="482.30" cy="340.80" r="1.5" fill="#2C3653" stroke="#2C3653" stroke-width="0.5"/>
<circle cx="482.30" cy="367.50" r="1.5" fill="#2C3653" stroke="#2C3653" stroke-width="0.5"/>
<circle cx="482.30" cy="382.80" r="1.5" fill="#2C3653" stroke="#2C3653" stroke-width="0.5"/>
<circle cx="482.30" cy="399.00" r="1.5" fill="#2C3653" stroke="#2C3653" stroke-width="0.5"/>
<line x1="330.20" y1="371.00" x2="482.30" y2="327.20" stroke="#B2B2B2" stroke-width="0.85" stroke-dasharray="3.5 3.3"/>
<line x1="330.20" y1="372.00" x2="482.30" y2="327.20" stroke="#B2B2B2" stroke-width="0.85" stroke-dasharray="3.5 3.3"/>
<line x1="330.20" y1="384.50" x2="482.30" y2="327.20" stroke="#B2B2B2" stroke-width="0.85" stroke-dasharray="3.5 3.3"/>
<line x1="330.20" y1="399.20" x2="482.30" y2="382.80" stroke="#B2B2B2" stroke-width="0.85" stroke-dasharray="3.5 3.3"/>
<line x1="330.20" y1="468.00" x2="482.30" y2="367.50" stroke="#B2B2B2" stroke-width="0.85" stroke-dasharray="3.5 3.3"/>
<line x1="330.20" y1="496.00" x2="482.30" y2="399.00" stroke="#B2B2B2" stroke-width="0.85" stroke-dasharray="3.5 3.3"/>
<line x1="330.20" y1="524.00" x2="482.30" y2="340.80" stroke="#B2B2B2" stroke-width="0.85" stroke-dasharray="3.5 3.3"/>
<line x1="330.20" y1="561.40" x2="482.30" y2="338.80" stroke="#B2B2B2" stroke-width="0.85" stroke-dasharray="3.5 3.3"/>
<text x="0" y="0" font-size="10" text-anchor="middle" fill="#161616" stroke="#161616" stroke-width="0.2" textLength="13.3" lengthAdjust="spacingAndGlyphs" transform="translate(16.4 444.5) rotate(-90)">VAF</text>
<text x="0" y="0" font-size="10" text-anchor="middle" fill="#161616" stroke="#161616" stroke-width="0.2" textLength="13.3" lengthAdjust="spacingAndGlyphs" transform="translate(277.0 444.5) rotate(-90)">VAF</text>
</svg>
</body></html>
